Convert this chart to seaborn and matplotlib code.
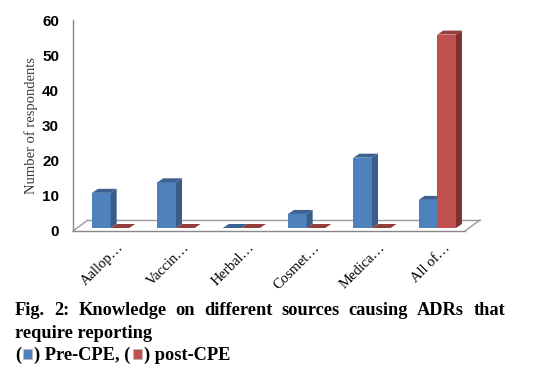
import numpy as np
import pandas as pd
import matplotlib
matplotlib.use("Agg")
import matplotlib.pyplot as plt
import seaborn as sns
from matplotlib.patches import Polygon, Rectangle
from matplotlib.lines import Line2D
from matplotlib.transforms import ScaledTranslation
from matplotlib.colors import to_hex

# ---- data ----
categories = ["Aallop\u2026", "Vaccin\u2026", "Herbal\u2026", "Cosmet\u2026", "Medica\u2026", "All of\u2026"]
pre_cpe = [10, 13, 0, 4, 20, 8]
post_cpe = [0, 0, 0, 0, 0, 55]
series = ["Pre-CPE", "post-CPE"]
yticks = [0, 10, 20, 30, 40, 50, 60]
ylabel = "Number of respondents"
caption_line1 = "Fig. 2: Knowledge on different sources causing ADRs that"
caption_line2 = "require reporting"

df = pd.DataFrame({
    "source": categories * 2,
    "value": pre_cpe + post_cpe,
    "group": [series[0]] * len(categories) + [series[1]] * len(categories),
})

sns.set_style("white")
W, H = 544, 371
fig = plt.figure(figsize=(W / 100, H / 100), dpi=100)
ax = fig.add_axes([73 / W, 140 / H, 392 / W, 211 / H])

front = {series[0]: "#4F81BD", series[1]: "#C0504D"}
side = {series[0]: "#385D8A", series[1]: "#7E3230"}
top = {series[0]: "#3C6292", series[1]: "#943E3B"}

sns.barplot(data=df, x="source", y="value", hue="group", palette=front,
            width=0.57, saturation=1, linewidth=0, ax=ax, legend=False)

ax.set_xlim(-0.5, len(categories) - 0.5)
ax.set_ylim(0, 60)

# 3D-like faces derived from the bar geometry
px_x = 392 / len(categories)
px_y = 211 / 60
dx = 6 / px_x
dy = 4 / px_y
shift = ScaledTranslation(5 / 100, 3 / 100, fig.dpi_scale_trans)
tr = ax.transData + shift
front_hex = {to_hex(v).lower(): k for k, v in front.items()}
bars = [p for p in ax.patches if isinstance(p, Rectangle)]
for p in bars:
    grp = front_hex.get(to_hex(p.get_facecolor()).lower(), series[0])
    z = 2 if grp == series[0] else 3
    p.set_transform(tr)
    p.set_zorder(z)
    p.set_clip_on(False)
    x0, w, h = p.get_x(), p.get_width(), p.get_height()
    topf = Polygon([(x0, h), (x0 + w, h), (x0 + w + dx, h + dy), (x0 + dx, h + dy)],
                   closed=True, facecolor=top[grp], edgecolor="none", transform=tr,
                   zorder=z, clip_on=False)
    sidef = Polygon([(x0 + w, 0), (x0 + w + dx, dy), (x0 + w + dx, h + dy), (x0 + w, h)],
                    closed=True, facecolor=side[grp], edgecolor="none", transform=tr,
                    zorder=z, clip_on=False)
    ax.add_patch(topf)
    ax.add_patch(sidef)

# floor outline
gray = "#9a9a9a"
fx, fy = 15 / 392, 11 / 211
for xs, ys in [([0, fx], [0, fy]), ([fx, 1 + fx], [fy, fy]), ([1, 1 + fx], [0, fy])]:
    ax.add_line(Line2D(xs, ys, transform=ax.transAxes, color=gray, lw=1.0,
                       zorder=1, clip_on=False))

sns.despine(ax=ax, top=True, right=True)
for s in ["left", "bottom"]:
    ax.spines[s].set_color("#888888")
    ax.spines[s].set_linewidth(1.0)

ax.set_yticks(yticks)
ax.set_yticklabels([str(v) for v in yticks], fontfamily="Liberation Sans",
                   fontweight="bold", fontsize=11, color="black")
ax.tick_params(axis="y", direction="out", length=5, width=1, color="#888888", pad=5)

ax.set_xticks(range(len(categories)))
ax.set_xticks(np.arange(-0.5, len(categories), 1.0), minor=True)
ax.tick_params(axis="x", which="major", length=0, pad=4)
ax.tick_params(axis="x", which="minor", direction="out", length=5, width=1, color="#888888")
ax.set_xticklabels(categories, rotation=45, ha="right", va="center",
                   rotation_mode="anchor", fontfamily="Liberation Serif",
                   fontsize=10.5, color="black")
lab_shift = ScaledTranslation(16 / 100, -9 / 100, fig.dpi_scale_trans)
for t in ax.get_xticklabels():
    t.set_transform(t.get_transform() + lab_shift)
ax.set_xlabel("")
ax.set_ylabel(ylabel, fontfamily="Liberation Serif", fontsize=10.5, color="#41372c", labelpad=3)

# caption
cap_font = dict(fontfamily="Liberation Serif", fontweight="bold", fontsize=13.2, color="black")
fig.canvas.draw()
renderer = fig.canvas.get_renderer()

def ypos(px):
    return 1 - px / H

words = caption_line1.split()
texts = [fig.text(0, ypos(315), w_, va="baseline", ha="left", **cap_font) for w_ in words]
widths = [t.get_window_extent(renderer).width for t in texts]
left_px, right_px = 15, 505
gap = (right_px - left_px - sum(widths)) / (len(words) - 1)
xcur = left_px
for t, wd in zip(texts, widths):
    t.set_x(xcur / W)
    xcur += wd + gap

fig.text(left_px / W, ypos(338), caption_line2, va="baseline", ha="left", **cap_font)

pieces = ["(", None, ") " + series[0] + ", (", None, ") " + series[1]]
sq_colors = [front[series[0]], front[series[1]]]
xcur = left_px
k = 0
for pc in pieces:
    if pc is None:
        sq_w, sq_h = 9, 10
        fig.patches.append(Rectangle(((xcur + 2) / W, (H - 359) / H), sq_w / W, sq_h / H,
                                     transform=fig.transFigure, facecolor=sq_colors[k],
                                     edgecolor="#b8b8b8", lw=0.6))
        k += 1
        xcur += sq_w + 4
    else:
        t = fig.text(xcur / W, ypos(360), pc, va="baseline", ha="left", **cap_font)
        xcur += t.get_window_extent(renderer).width

fig.savefig("out.png", dpi=100)
